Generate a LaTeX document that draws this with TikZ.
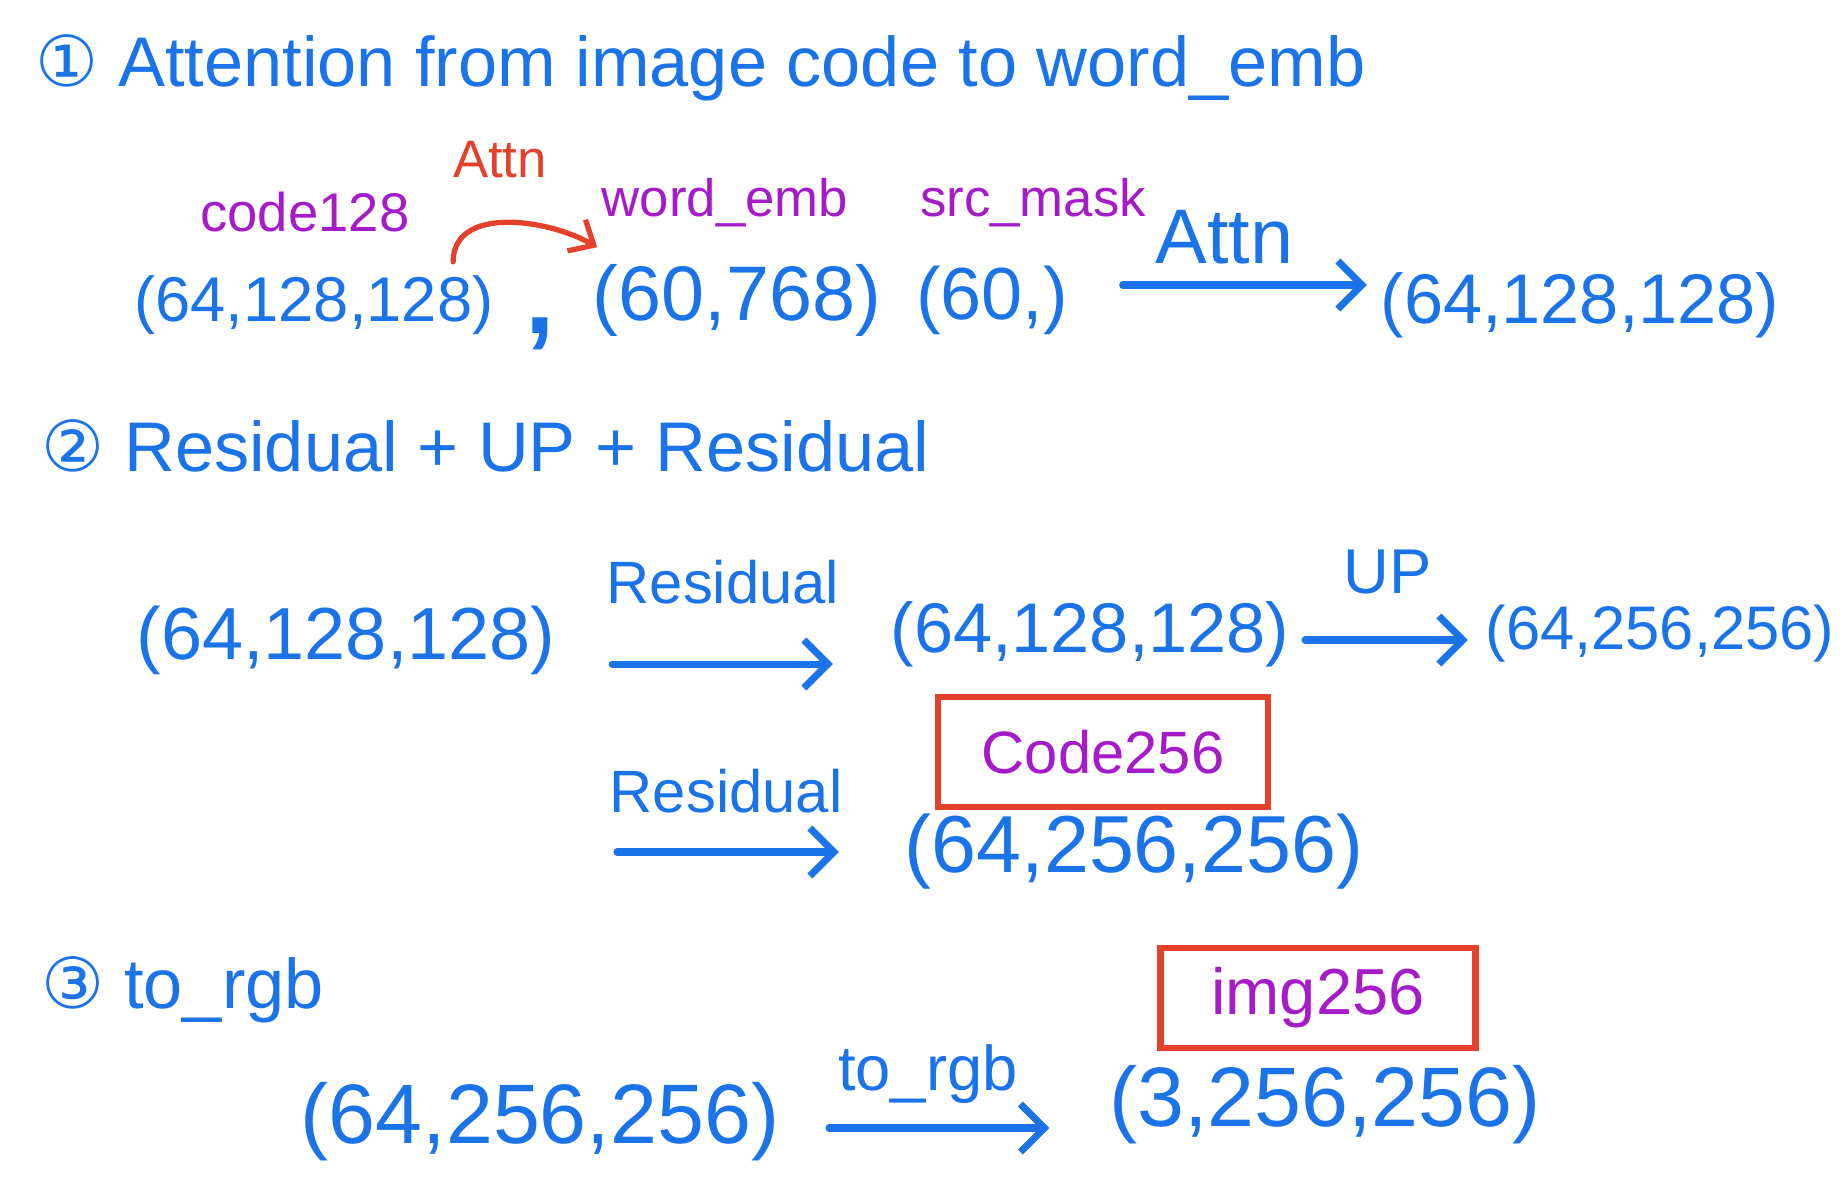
\documentclass[tikz,border=0pt]{standalone}
\usepackage{fontspec}
\setmainfont{Liberation Sans}
\newfontfamily\circfont{DejaVu Sans}
\usetikzlibrary{arrows.meta}

\begin{document}
\begin{tikzpicture}[x=0.01cm, y=-0.01cm,
    heading/.style={text=inkBlue, anchor=west, inner sep=0pt, font=\fontsize{20}{24}\selectfont},
    dims/.style={text=inkBlue, inner sep=0pt, font=\fontsize{#1}{#1}\selectfont},
    dims/.default=21,
    tag/.style={text=inkPurple, inner sep=0pt, font=\fontsize{#1}{#1}\selectfont},
    tag/.default=15,
    oplabel/.style={text=inkBlue, inner sep=0pt, font=\fontsize{#1}{#1}\selectfont},
    flow/.style={draw=inkBlue, line width=2pt, line cap=round, -{Straight Barb[length=2.4mm,width=4.8mm]}},
    markbox/.style={draw=inkRed, line width=1.8pt, inner sep=0pt, text=inkPurple}]

    \definecolor{inkBlue}{HTML}{1A73E8}
    \definecolor{inkPurple}{HTML}{A61BC8}
    \definecolor{inkRed}{HTML}{E5402C}

    \useasboundingbox (0,0) rectangle (1842,1188);

    % Step 1: attention
    \node[heading] (head1) at (35,68) {{\circfont ①} Attention from image code to word\_emb};
    \node[dims=18] (t1a) at (314,305) {(64,128,128)};
    \node[text=inkBlue, inner sep=0pt, font=\fontsize{30}{30}\selectfont\bfseries] (sep1) at (540,334) {,};
    \node[dims=22] (t1b) at (737,300) {(60,768)};
    \node[dims=21] (t1c) at (992,300) {(60,)};
    \node[dims=20] (t1d) at (1580,305) {(64,128,128)};

    \node[tag=15.5] (code128) at (305,212) {code128};
    \node[tag] (wordemb) at (725,203) {word\_emb};
    \node[tag] (srcmask) at (1033,203) {src\_mask};
    \node[text=inkRed, inner sep=0pt, font=\fontsize{15}{15}\selectfont] (attn0) at (500,160) {Attn};

    \draw[draw=inkRed, line width=1.5pt, line cap=round, -{Straight Barb[length=2mm,width=3.6mm]}]
        ([xshift=-4.1mm,yshift=1.3mm]t1a.north east) to[out=90,in=150] ([xshift=0.5mm,yshift=1.6mm]t1b.north west);
    \draw[flow, shorten <=5.4mm, shorten >=1.3mm] ([yshift=1.5mm]t1c.east) -- ([yshift=1.5mm]t1c.east -| t1d.west)
        node[oplabel=22, midway, above=5pt] (attn1) {Attn};

    % Step 2: residual + up + residual
    \node[heading] (head2) at (41,446) {{\circfont ②} Residual + UP + Residual};
    \node[dims=21] (t2a) at (346,640) {(64,128,128)};
    \node[dims=20] (t2b) at (1090,634) {(64,128,128)};
    \node[dims=17.5] (t2c) at (1660,634) {(64,256,256)};
    \node[dims=23] (t2d) at (1134,852) {(64,256,256)};
    \node[markbox, minimum width=3.3cm, minimum height=1.1cm, font=\fontsize{17}{17}\selectfont] (code256) at (1103,752) {Code256};

    \draw[flow, shorten <=5.6mm, shorten >=5.7mm] ([yshift=-2.4mm]t2a.east) -- ([yshift=-2.4mm]t2a.east -| t2b.west)
        node[oplabel=17, midway, above=16pt] (res1) {Residual};
    \draw[flow, shorten <=1.5mm, shorten >=1.7mm] ([yshift=-0.6mm]t2b.east) -- ([yshift=-0.6mm]t2b.east -| t2c.west)
        node[oplabel=18, midway, above=12pt] (up1) {UP};
    \coordinate (res2in) at (617,852);
    \draw[flow, shorten >=6.5mm] (res2in) -- (res2in -| t2d.west)
        node[oplabel=17, pos=0.38, above=10pt] (res2) {Residual};

    % Step 3: to_rgb
    \node[heading] (head3) at (41,990) {{\circfont ③} to\_rgb};
    \node[dims=24] (t3a) at (540,1122) {(64,256,256)};
    \node[dims=24] (t3b) at (1325,1105) {(3,256,256)};
    \node[markbox, minimum width=3.15cm, minimum height=1.0cm, font=\fontsize{18.5}{18.5}\selectfont] (img256) at (1318,998) {img256};

    \draw[flow, shorten <=4.9mm, shorten >=5.9mm] ([yshift=-0.6mm]t3a.east) -- ([yshift=-0.6mm]t3a.east -| t3b.west)
        node[oplabel=18, pos=0.45, above=6pt] (torgb) {to\_rgb};

\end{tikzpicture}
\end{document}
